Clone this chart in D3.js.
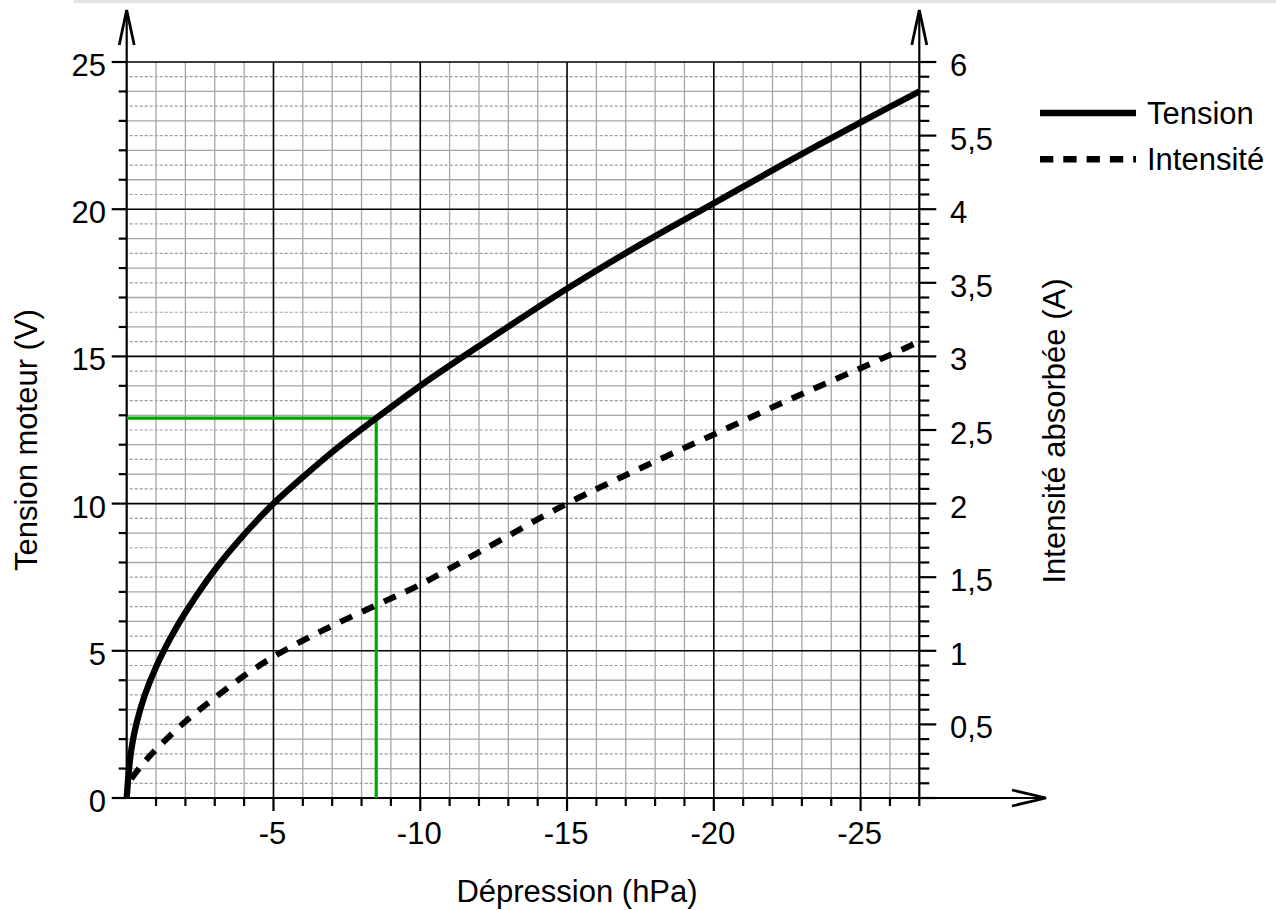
<!DOCTYPE html>
<html lang="fr">
  <head>
    <meta charset="UTF-8" />
    <title>Tension et intensité</title>
    <script src="https://d3js.org/d3.v7.min.js"></script>
    <style>
      body { margin: 0; background: #fff; }
      text { font-family: "Liberation Sans", Arial, sans-serif; fill: #000; }
    </style>
  </head>
  <body>
    <svg width="1276" height="910"></svg>
    <script>
      // dépression (hPa) -> tension moteur (V)
      let tensionP = [0, -0.1, -0.2, -0.35, -0.6, -1, -1.5, -2, -3, -4, -5, -6, -7, -8.5, -10, -12, -15, -17.5, -20, -22.5, -25, -27];
      let tensionV = [0, 1.2, 1.9, 2.6, 3.45, 4.45, 5.45, 6.3, 7.75, 8.95, 10.0, 10.9, 11.75, 12.9, 14.0, 15.35, 17.3, 18.8, 20.2, 21.6, 22.95, 24.0];
      // dépression (hPa) -> intensité absorbée (A)
      let intensP = [-0.15, -0.5, -1, -2, -3, -4, -5, -6, -7, -8.5, -10, -12, -15, -17.5, -20, -22.5, -25, -27];
      let intensA = [0.13, 0.22, 0.33, 0.52, 0.68, 0.83, 0.96, 1.07, 1.17, 1.31, 1.45, 1.67, 2.0, 2.24, 2.47, 2.7, 2.92, 3.1];
      // point de lecture
      let readP = -8.5;
      let readV = 12.9;

      let xTicks = [-5, -10, -15, -20, -25];
      let leftTicks = [0, 5, 10, 15, 20, 25];
      let rightTicks = [0.5, 1, 1.5, 2, 2.5, 3, 3.5, 4, 4.5, 5];
      let rightLabels = ["0,5", "1", "1,5", "2", "2,5", "3", "3,5", "4", "5,5", "6"];
      let legendNames = ["Tension", "Intensité"];

      let svg = d3.select("svg");
      let x = d3.scaleLinear().domain([0, -27]).range([126.7, 919.3]);
      let yV = d3.scaleLinear().domain([0, 25]).range([798, 62]);
      let yA = d3.scaleLinear().domain([0, 5]).range([798, 62]);

      // bandeau gris en haut (légende coupée)
      svg.append("rect").attr("x", 74).attr("y", 0).attr("width", 1202).attr("height", 3).attr("fill", "#e3e3e3");

      let grid = svg.append("g");
      // lignes horizontales pointillées (demi-volt)
      grid.selectAll(".hdot")
        .data(d3.range(0.5, 25, 1))
        .enter()
        .append("line")
        .attr("x1", x(0) + 3).attr("x2", x(-27))
        .attr("y1", (d) => yV(d)).attr("y2", (d) => yV(d))
        .attr("stroke", "#9a9a9a").attr("stroke-width", 1.2)
        .attr("stroke-dasharray", "3,2");
      // lignes grises
      grid.selectAll(".hgray")
        .data(d3.range(1, 26).filter((d) => d % 5 != 0))
        .enter()
        .append("line")
        .attr("x1", x(0)).attr("x2", x(-27))
        .attr("y1", (d) => yV(d)).attr("y2", (d) => yV(d))
        .attr("stroke", "#a6a6a6").attr("stroke-width", 1.3);
      grid.selectAll(".vgray")
        .data(d3.range(-1, -28, -1).filter((d) => d % 5 != 0))
        .enter()
        .append("line")
        .attr("x1", (d) => x(d)).attr("x2", (d) => x(d))
        .attr("y1", yV(0)).attr("y2", yV(25))
        .attr("stroke", "#a6a6a6").attr("stroke-width", 1.3);
      // lignes noires
      grid.selectAll(".hblack")
        .data([5, 10, 15, 20, 25])
        .enter()
        .append("line")
        .attr("x1", x(0)).attr("x2", x(-27))
        .attr("y1", (d) => yV(d)).attr("y2", (d) => yV(d))
        .attr("stroke", "#000").attr("stroke-width", 1.6);
      grid.selectAll(".vblack")
        .data(xTicks)
        .enter()
        .append("line")
        .attr("x1", (d) => x(d)).attr("x2", (d) => x(d))
        .attr("y1", yV(0)).attr("y2", yV(25))
        .attr("stroke", "#000").attr("stroke-width", 1.6);

      // axes
      let axes = svg.append("g").attr("stroke", "#000").attr("stroke-width", 2.2).attr("fill", "none");
      axes.append("line").attr("x1", x(0)).attr("x2", x(0)).attr("y1", yV(0)).attr("y2", 10);
      axes.append("line").attr("x1", x(-27)).attr("x2", x(-27)).attr("y1", yV(0)).attr("y2", 10);
      axes.append("line").attr("x1", x(0)).attr("x2", 1046).attr("y1", yV(0)).attr("y2", yV(0));
      // flèches
      axes.append("path").attr("stroke-width", 2.8)
        .attr("d", "M" + (x(0) - 7.5) + ",45L" + x(0) + ",10L" + (x(0) + 7.5) + ",45");
      axes.append("path").attr("stroke-width", 2.8)
        .attr("d", "M" + (x(-27) - 7.5) + ",45L" + x(-27) + ",10L" + (x(-27) + 7.5) + ",45");
      axes.append("path").attr("stroke-width", 2.8)
        .attr("d", "M1012," + (yV(0) - 8) + "L1046," + yV(0) + "L1012," + (yV(0) + 8));

      // graduations gauche
      axes.selectAll(".lt")
        .data(d3.range(0, 26))
        .enter()
        .append("line")
        .attr("x1", (d) => (d % 5 == 0 ? x(0) - 15 : x(0) - 8)).attr("x2", x(0))
        .attr("y1", (d) => yV(d)).attr("y2", (d) => yV(d));
      // graduations droite
      axes.selectAll(".rt")
        .data(d3.range(0, 51).map((d) => d / 10))
        .enter()
        .append("line")
        .attr("x1", x(-27))
        .attr("x2", (d, i) => (i % 5 == 0 ? x(-27) + 17 : x(-27) + 10))
        .attr("y1", (d) => yA(d)).attr("y2", (d) => yA(d));
      // graduations bas
      axes.selectAll(".bt")
        .data(d3.range(-1, -28, -1))
        .enter()
        .append("line")
        .attr("x1", (d) => x(d)).attr("x2", (d) => x(d))
        .attr("y1", yV(0))
        .attr("y2", (d) => (d % 5 == 0 ? yV(0) + 13 : yV(0) + 8));

      // étiquettes
      svg.selectAll(".ll")
        .data(leftTicks)
        .enter()
        .append("text")
        .attr("x", 106).attr("y", (d) => yV(d) + 14)
        .attr("text-anchor", "end").attr("font-size", 31)
        .text((d) => d);
      svg.selectAll(".rl")
        .data(rightTicks)
        .enter()
        .append("text")
        .attr("x", 950).attr("y", (d) => yA(d) + 14)
        .attr("font-size", 31)
        .text((d, i) => rightLabels[i]);
      svg.selectAll(".bl")
        .data(xTicks)
        .enter()
        .append("text")
        .attr("x", (d) => x(d) - 1).attr("y", 844)
        .attr("text-anchor", "middle").attr("font-size", 31)
        .text((d) => d);

      svg.append("text")
        .attr("x", 577).attr("y", 902)
        .attr("text-anchor", "middle").attr("font-size", 31)
        .text("Dépression (hPa)");
      svg.append("text")
        .attr("transform", "translate(37,440) rotate(-90)")
        .attr("text-anchor", "middle").attr("font-size", 31)
        .text("Tension moteur (V)");
      svg.append("text")
        .attr("transform", "translate(1065,431) rotate(-90)")
        .attr("text-anchor", "middle").attr("font-size", 31)
        .text("Intensité absorbée (A)");

      // lecture en vert
      svg.append("path")
        .attr("d", "M" + x(0) + "," + yV(readV) + "L" + x(readP) + "," + yV(readV) + "L" + x(readP) + "," + yV(0))
        .attr("fill", "none").attr("stroke", "#00a800").attr("stroke-width", 3.2);

      // courbes
      let tension = tensionP.map((p, i) => [p, tensionV[i]]);
      let intens = intensP.map((p, i) => [p, intensA[i]]);
      svg.append("path")
        .datum(tension)
        .attr("d", d3.line().x((d) => x(d[0])).y((d) => yV(d[1])).curve(d3.curveCatmullRom.alpha(0.5)))
        .attr("fill", "none").attr("stroke", "#000").attr("stroke-width", 6.3);
      svg.append("path")
        .datum(intens)
        .attr("d", d3.line().x((d) => x(d[0])).y((d) => yA(d[1])).curve(d3.curveCatmullRom.alpha(0.5)))
        .attr("fill", "none").attr("stroke", "#000").attr("stroke-width", 6)
        .attr("stroke-dasharray", "13,11");

      // légende
      let legend = svg.selectAll(".leg")
        .data(legendNames)
        .enter()
        .append("g")
        .attr("transform", (d, i) => "translate(0," + (113 + i * 46.3) + ")");
      legend.append("line")
        .attr("x1", 1040).attr("x2", 1136)
        .attr("stroke", "#000").attr("stroke-width", 6.5)
        .attr("stroke-dasharray", (d, i) => (i == 1 ? "13.3,10" : null));
      legend.append("text")
        .attr("x", 1147).attr("y", 10.5)
        .attr("font-size", 31)
        .text((d) => d);
    </script>
  </body>
</html>
